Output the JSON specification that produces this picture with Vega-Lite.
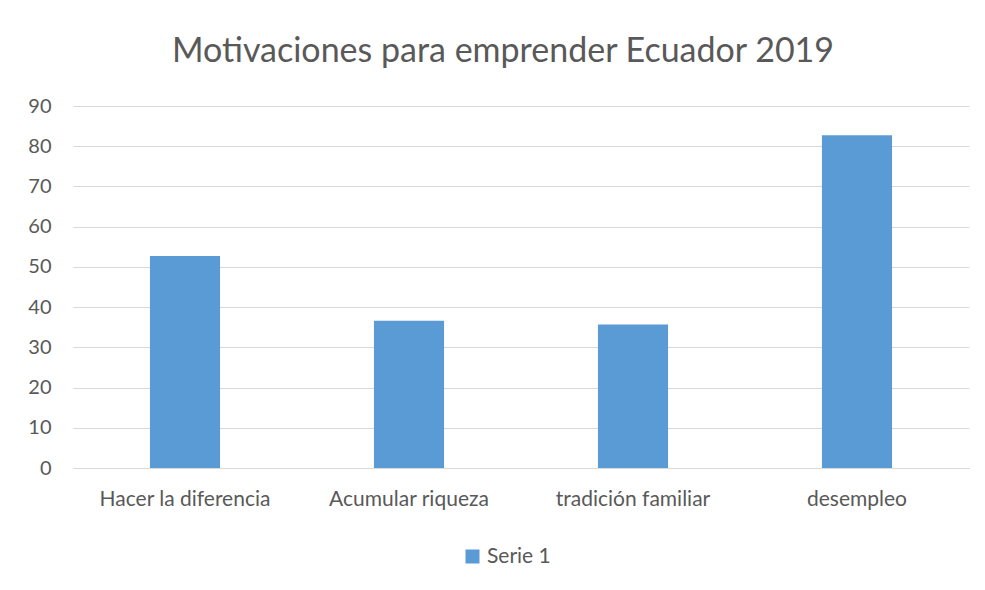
{
  "$schema": "https://vega.github.io/schema/vega-lite/v6.json",
  "autosize": "none",
  "width": 896,
  "height": 362,
  "padding": {"left": 73, "top": 106, "right": 16, "bottom": 122},
  "background": "white",
  "title": {
    "text": "Motivaciones para emprender Ecuador 2019",
    "anchor": "middle",
    "font": "Lato",
    "fontSize": 34,
    "fontWeight": "normal",
    "color": "#595959",
    "baseline": "alphabetic",
    "offset": 0,
    "dx": -18
  },
  "data": {
    "values": [
      {"categoria": "Hacer la diferencia", "valor": 52.7, "serie": "Serie 1"},
      {"categoria": "Acumular riqueza", "valor": 36.6, "serie": "Serie 1"},
      {"categoria": "tradición familiar", "valor": 35.7, "serie": "Serie 1"},
      {"categoria": "desempleo", "valor": 82.7, "serie": "Serie 1"}
    ]
  },
  "mark": {"type": "bar"},
  "encoding": {
    "x": {
      "field": "categoria",
      "type": "nominal",
      "sort": null,
      "scale": {"paddingInner": 0.687, "paddingOuter": 0.3435},
      "axis": {
        "title": null,
        "labelAngle": 0,
        "labelFont": "Lato",
        "labelFontSize": 21,
        "labelColor": "#595959",
        "labelPadding": 20,
        "ticks": false,
        "domainColor": "#d9d9d9",
        "domainWidth": 1,
        "grid": false
      }
    },
    "y": {
      "field": "valor",
      "type": "quantitative",
      "scale": {"domain": [0, 90], "nice": false},
      "axis": {
        "title": null,
        "values": [0, 10, 20, 30, 40, 50, 60, 70, 80, 90],
        "labelFont": "Lato",
        "labelFontSize": 20,
        "labelColor": "#595959",
        "labelPadding": 22,
        "ticks": false,
        "domain": false,
        "grid": true,
        "gridColor": "#d9d9d9",
        "gridWidth": 1
      }
    },
    "color": {
      "field": "serie",
      "type": "nominal",
      "scale": {"range": ["#5b9bd5"]},
      "legend": {
        "title": null,
        "orient": "none",
        "legendX": 389,
        "legendY": 440,
        "direction": "horizontal",
        "symbolType": "square",
        "symbolSize": 196,
        "symbolStrokeWidth": 0,
        "labelOffset": 4,
        "labelFont": "Lato",
        "labelFontSize": 21,
        "labelColor": "#595959"
      }
    }
  },
  "config": {
    "view": {"stroke": null}
  }
}
